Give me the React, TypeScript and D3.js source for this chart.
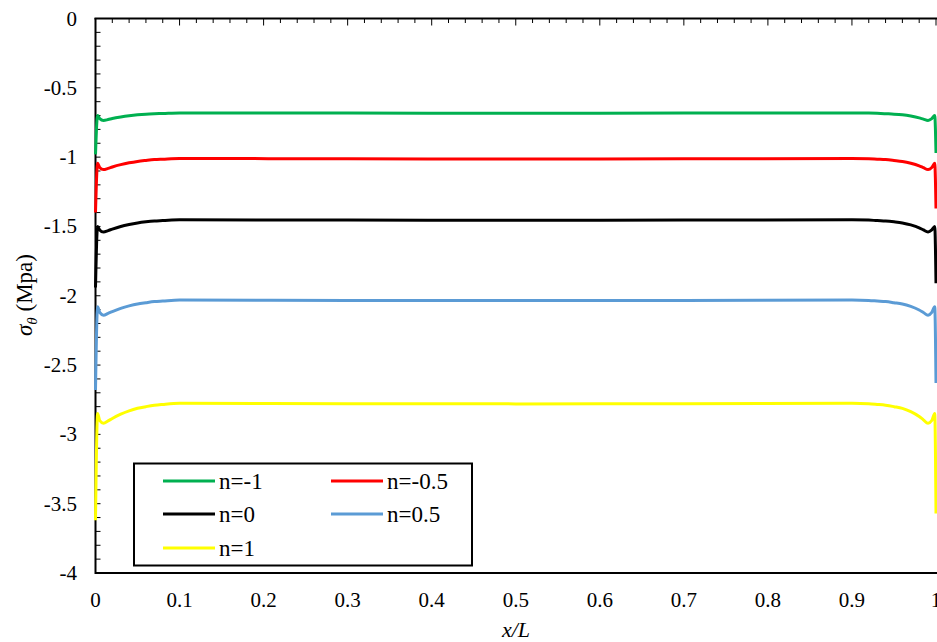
import React from "react";
import * as d3 from "d3";

const xs = [0, 0.0025, 0.005, 0.0095, 0.015, 0.02, 0.03, 0.04, 0.05, 0.06, 0.07, 0.08, 0.1, 0.3, 0.5, 0.7, 0.9, 0.92, 0.93, 0.94, 0.95, 0.96, 0.97, 0.98, 0.985, 0.9905, 0.995, 0.9985, 1];

const nNeg1 = [-0.98, -0.7, -0.722, -0.735, -0.729, -0.722, -0.711, -0.702, -0.695, -0.69, -0.687, -0.685, -0.681, -0.682, -0.683, -0.682, -0.681, -0.682, -0.684, -0.687, -0.69, -0.695, -0.704, -0.717, -0.726, -0.735, -0.722, -0.7, -0.97];
const nNeg05 = [-1.4, -1.045, -1.075, -1.09, -1.081, -1.071, -1.054, -1.041, -1.031, -1.024, -1.018, -1.015, -1.01, -1.012, -1.013, -1.012, -1.01, -1.012, -1.015, -1.018, -1.024, -1.031, -1.044, -1.063, -1.076, -1.09, -1.075, -1.045, -1.37];
const n0 = [-1.94, -1.5, -1.525, -1.54, -1.53, -1.519, -1.5, -1.486, -1.475, -1.467, -1.461, -1.458, -1.452, -1.454, -1.455, -1.454, -1.452, -1.454, -1.458, -1.461, -1.467, -1.475, -1.489, -1.51, -1.525, -1.54, -1.525, -1.5, -1.91];
const n05 = [-2.68, -2.08, -2.12, -2.14, -2.127, -2.114, -2.091, -2.073, -2.059, -2.05, -2.042, -2.038, -2.031, -2.034, -2.035, -2.034, -2.031, -2.034, -2.038, -2.042, -2.05, -2.059, -2.077, -2.103, -2.121, -2.14, -2.12, -2.08, -2.63];
const n1 = [-3.62, -2.85, -2.9, -2.92, -2.903, -2.885, -2.854, -2.83, -2.812, -2.8, -2.79, -2.784, -2.776, -2.779, -2.78, -2.779, -2.776, -2.779, -2.784, -2.79, -2.8, -2.812, -2.836, -2.871, -2.895, -2.92, -2.9, -2.85, -3.57];

const seriesNames = ["n=-1", "n=-0.5", "n=0", "n=0.5", "n=1"];
const seriesValues = [nNeg1, nNeg05, n0, n05, n1];
const seriesColors = ["#00B050", "#FF0000", "#000000", "#5B9BD5", "#FFFF00"];

const xMajorTicks = [0, 0.1, 0.2, 0.3, 0.4, 0.5, 0.6, 0.7, 0.8, 0.9, 1];
const xTickLabels = ["0", "0.1", "0.2", "0.3", "0.4", "0.5", "0.6", "0.7", "0.8", "0.9", "1"];
const yMajorTicks = [0, -0.5, -1, -1.5, -2, -2.5, -3, -3.5, -4];
const yTickLabels = ["0", "-0.5", "-1", "-1.5", "-2", "-2.5", "-3", "-3.5", "-4"];

const W = 937;
const H = 642;
const FONT = '"Liberation Serif", serif';

export default function App() {
  const x = d3.scaleLinear().domain([0, 1]).range([95.5, 936]);
  const y = d3.scaleLinear().domain([-4, 0]).range([573, 18.5]);

  const line = d3
    .line<[number, number]>()
    .x((d) => x(d[0]))
    .y((d) => y(d[1]))
    .curve(d3.curveMonotoneX);

  const xMinor = d3.range(0, 51).map((i) => i * 0.02);
  const yMinor = d3.range(0, 41).map((i) => -i * 0.1);

  const legendItems = [
    { i: 0, lx: 163, ly: 481 },
    { i: 1, lx: 331, ly: 481 },
    { i: 2, lx: 163, ly: 514 },
    { i: 3, lx: 331, ly: 514 },
    { i: 4, lx: 163, ly: 548 },
  ];

  const ts: React.CSSProperties = { fontFamily: FONT };

  return (
    <svg
      width={W}
      height={H}
      style={{ position: "absolute", left: 0, top: 0, background: "#fff", fontFamily: FONT }}
    >
      <rect x={0} y={0} width={W} height={H} fill="#fff" />
      {/* frame */}
      <line x1={95} x2={W} y1={573} y2={573} stroke="#000" strokeWidth={2} />
      <line x1={94.5} x2={W} y1={18.5} y2={18.5} stroke="#000" strokeWidth={2} />
      <line x1={95.5} x2={95.5} y1={18} y2={574} stroke="#000" strokeWidth={2} />
      {/* x ticks on top axis */}
      {xMinor.map((t, k) => {
        const major = k % 5 === 0;
        return (
          <line
            key={"xm" + k}
            x1={x(t)}
            x2={x(t)}
            y1={18.5}
            y2={18.5 + (major ? 7 : 4.5)}
            stroke="#000"
            strokeWidth={1}
          />
        );
      })}
      {/* y ticks */}
      {yMinor.map((t, k) => (
        <line
          key={"ym" + k}
          x1={95.5}
          x2={95.5 + 5}
          y1={y(t)}
          y2={y(t)}
          stroke="#000"
          strokeWidth={1}
        />
      ))}
      {/* x tick labels */}
      {xMajorTicks.map((t, k) => (
        <text key={"xl" + k} x={x(t)} y={607} textAnchor="middle" fontSize={21} fill="#000" style={ts}>
          {xTickLabels[k]}
        </text>
      ))}
      {/* y tick labels */}
      {yMajorTicks.map((t, k) => (
        <text key={"yl" + k} x={77} y={y(t) + 7} textAnchor="end" fontSize={21} fill="#000" style={ts}>
          {yTickLabels[k]}
        </text>
      ))}
      {/* series */}
      {seriesValues.map((vals, s) => (
        <path
          key={"s" + s}
          d={line(xs.map((xv, i) => [xv, vals[i]] as [number, number])) || ""}
          fill="none"
          stroke={seriesColors[s]}
          strokeWidth={3}
          strokeLinejoin="round"
        />
      ))}
      {/* legend */}
      <rect x={134} y={463.5} width={338} height={102} fill="#fff" stroke="#000" strokeWidth={2} />
      {legendItems.map(({ i, lx, ly }) => (
        <g key={"lg" + i}>
          <line x1={lx} x2={lx + 52} y1={ly} y2={ly} stroke={seriesColors[i]} strokeWidth={3} />
          <text x={lx + 56} y={ly + 7.5} fontSize={23} fill="#000" style={ts}>
            {seriesNames[i]}
          </text>
        </g>
      ))}
      {/* axis titles */}
      <text x={516} y={637} textAnchor="middle" fontSize={22} fontStyle="italic" fill="#000" style={ts}>
        x/L
      </text>
      <text
        transform="translate(32,295) rotate(-90)"
        textAnchor="middle"
        fontSize={23}
        fill="#000"
        style={ts}
      >
        <tspan fontStyle="italic">σ</tspan>
        <tspan fontStyle="italic" fontSize={15} dy={5}>θ</tspan>
        <tspan dy={-5}> (Mpa)</tspan>
      </text>
    </svg>
  );
}
